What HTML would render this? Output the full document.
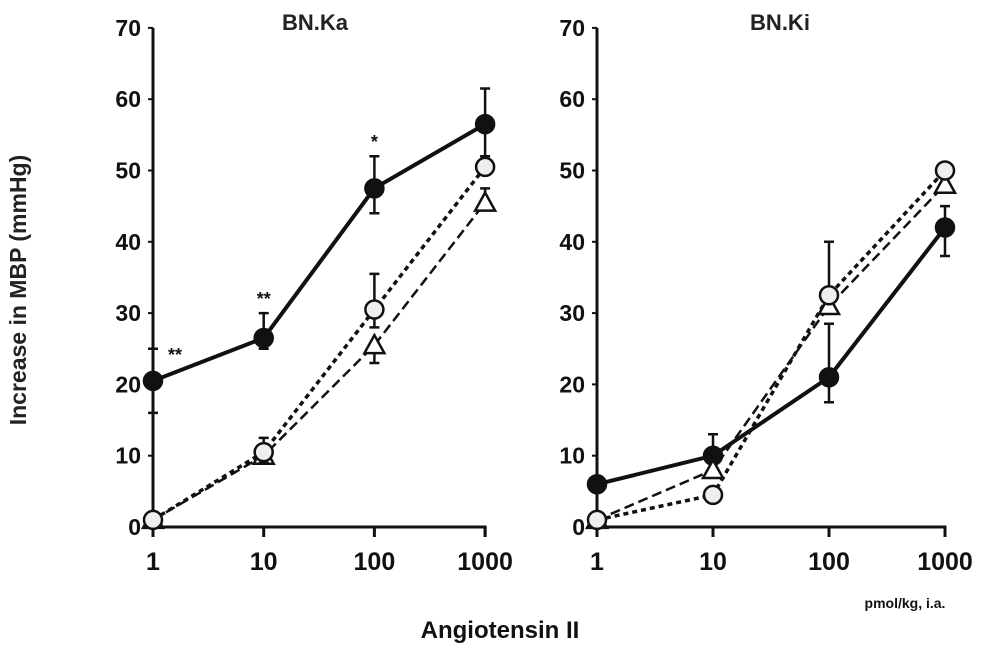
<!DOCTYPE html>
<html><head><meta charset="utf-8"><style>
html,body{margin:0;padding:0;background:#fff;}
svg{display:block;font-family:"Liberation Sans",Arial,sans-serif;font-weight:bold;}
</style></head><body>
<svg id="chart" width="1000" height="649" viewBox="0 0 1000 649">
<text x="-290" y="26" transform="rotate(-90)" text-anchor="middle" font-size="23" fill="#222">Increase in MBP (mmHg)</text>
<text x="500" y="638" text-anchor="middle" font-size="24" fill="#111">Angiotensin II</text>
<text x="905" y="608" text-anchor="middle" font-size="14" fill="#111">pmol/kg, i.a.</text>
</svg>
<script>
const doses = [1, 10, 100, 1000];
const yTicks = [0, 10, 20, 30, 40, 50, 60, 70];
const xTickLabels = ['1', '10', '100', '1000'];
const panelTitles = ['BN.Ka', 'BN.Ki'];
// Left panel (BN.Ka)
const kaFilled = [20.5, 26.5, 47.5, 56.5];
const kaFilledLo = [16, 25, 44, 52];
const kaFilledHi = [25, 30, 52, 61.5];
const kaCircle = [1, 10.5, 30.5, 50.5];
const kaCircleLo = [1, 9, 28, 50.5];
const kaCircleHi = [1, 12.5, 35.5, 50.5];
const kaTriangle = [1, 10, 25.5, 45.5];
const kaTriangleLo = [1, 9, 23, 45.5];
const kaTriangleHi = [1, 10, 25.5, 47.5];
const kaStars = ['**', '**', '*', ''];
// Right panel (BN.Ki)
const kiFilled = [6, 10, 21, 42];
const kiFilledLo = [6, 10, 17.5, 38];
const kiFilledHi = [6, 10, 28.5, 45];
const kiCircle = [1, 4.5, 32.5, 50];
const kiCircleLo = [1, 4.5, 32.5, 50];
const kiCircleHi = [1, 4.5, 40, 50];
const kiTriangle = [1, 8, 31, 48];
const kiTriangleLo = [1, 8, 31, 48];
const kiTriangleHi = [1, 13, 31, 48];

const NS = 'http://www.w3.org/2000/svg';
const svg = document.getElementById('chart');
function mk(tag, attrs, parent) {
  const e = document.createElementNS(NS, tag);
  for (const k in attrs) e.setAttribute(k, attrs[k]);
  (parent || svg).appendChild(e);
  return e;
}
function panel(p) {
  const g = mk('g', {});
  
  
  const x = d => p.x0 + Math.log10(d) * p.dec;
  const y = v => 527 - v * 7.13;
  const ax = mk('path', {d: `M${p.x0} ${y(70)} V${y(0)} H${x(1000)} V${y(0)+10}`, stroke: '#111', 'stroke-width': 3, fill: 'none'}, g);
  
  
  yTicks.forEach(t => {
    const tk = mk('line', {x1: p.x0 - 5, x2: p.x0, y1: y(t), y2: y(t), stroke: '#111', 'stroke-width': 2}, g);
    
    
    const lb = mk('text', {x: p.x0 - 12, y: y(t) + 8, 'text-anchor': 'end', 'font-size': 23, fill: '#111'}, g);
    lb.textContent = t;
    
    
  });
  doses.forEach((d, i) => {
    const tk = mk('line', {x1: x(d), x2: x(d), y1: y(0), y2: y(0) + 10, stroke: '#111', 'stroke-width': 3}, g);
    
    
    const lb = mk('text', {x: x(d), y: 570, 'text-anchor': 'middle', 'font-size': 25, fill: '#111'}, g);
    lb.textContent = xTickLabels[i];
    
    
  });
  const tt = mk('text', {x: p.tx, y: 30, 'text-anchor': 'middle', 'font-size': 22, fill: '#222'}, g);
  tt.textContent = p.title;
  
  
  p.series.forEach(s => {
    const pts = s.v.map((v, i) => `${x(doses[i])},${y(v)}`).join(' ');
    const ln = mk('polyline', {points: pts, fill: 'none', stroke: '#111', 'stroke-width': s.w, 'stroke-dasharray': s.dash}, g);
    
    
    s.v.forEach((v, i) => {
      const cx = x(doses[i]);
      if (s.hi[i] !== s.lo[i]) {
        const eb = mk('path', {d: `M${cx} ${y(s.lo[i])} V${y(s.hi[i])} M${cx-5} ${y(s.lo[i])} H${cx+5} M${cx-5} ${y(s.hi[i])} H${cx+5}`, stroke: '#111', 'stroke-width': 2.5, fill: 'none'}, g);
        
        
      }
      let m;
      if (s.shape === 'tri') {
        m = mk('polygon', {points: `${cx},${y(v)-10} ${cx-10},${y(v)+8} ${cx+10},${y(v)+8}`, fill: '#fff', stroke: '#111', 'stroke-width': 2.5}, g);
      } else {
        m = mk('circle', {cx: cx, cy: y(v), r: 9, fill: s.shape === 'filled' ? '#111' : '#eee', stroke: '#111', 'stroke-width': 2.5}, g);
      }
      
      
    });
  });
  if (p.stars) p.stars.forEach((st, i) => {
    if (!st) return;
    const off = i === 0 ? 22 : 0;
    const yy = i === 0 ? y(p.series[0].hi[i]) + 12 : y(p.series[0].hi[i]) - 8;
    const t = mk('text', {x: x(doses[i]) + off, y: yy, 'text-anchor': 'middle', 'font-size': 18, fill: '#111'}, g);
    t.textContent = st;
    
    
  });
}
panel({name: 'panel-bn-ka', title: panelTitles[0], x0: 153, dec: 110.7, tx: 315, stars: kaStars, series: [
  {name: 'filled-circle', v: kaFilled, lo: kaFilledLo, hi: kaFilledHi, shape: 'filled', w: 4, dash: 'none'},
  {name: 'open-triangle', v: kaTriangle, lo: kaTriangleLo, hi: kaTriangleHi, shape: 'tri', w: 2.5, dash: '10 5'},
  {name: 'open-circle', v: kaCircle, lo: kaCircleLo, hi: kaCircleHi, shape: 'open', w: 3.5, dash: '5 4'}
]});
panel({name: 'panel-bn-ki', title: panelTitles[1], x0: 597, dec: 116, tx: 780, stars: null, series: [
  {name: 'filled-circle', v: kiFilled, lo: kiFilledLo, hi: kiFilledHi, shape: 'filled', w: 4, dash: 'none'},
  {name: 'open-triangle', v: kiTriangle, lo: kiTriangleLo, hi: kiTriangleHi, shape: 'tri', w: 2.5, dash: '10 5'},
  {name: 'open-circle', v: kiCircle, lo: kiCircleLo, hi: kiCircleHi, shape: 'open', w: 3.5, dash: '5 4'}
]});
</script>
</body></html>
